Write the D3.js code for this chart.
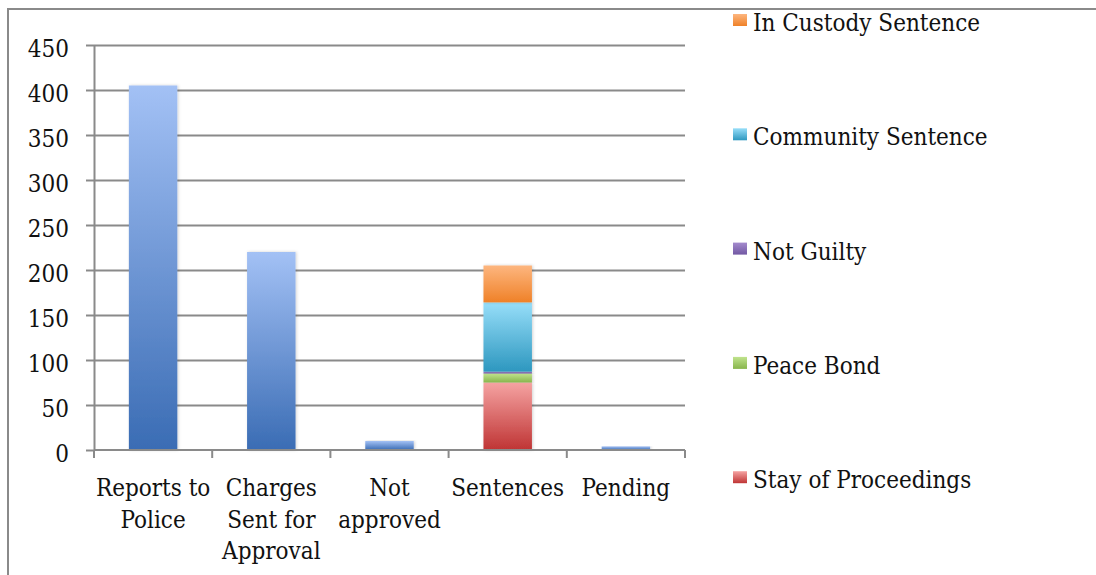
<!doctype html>
<html>
<head>
<style>
  body { margin: 0; background: #fff; }
  svg { display: block; }
  text { fill: #111; }
  .grid line { stroke: #8a8a8a; stroke-width: 2; }
  .grid path { stroke: none; }
  .axis path, .axis line { stroke: #8a8a8a; stroke-width: 2; }
</style>
<script src="https://d3js.org/d3.v7.min.js"></script>
</head>
<body>
<svg width="1096" height="575"></svg>
<script>
const categories = ['Reports to Police', 'Charges Sent for Approval', 'Not approved', 'Sentences', 'Pending'];
const catLines = [['Reports to', 'Police'], ['Charges', 'Sent for', 'Approval'], ['Not', 'approved'], ['Sentences'], ['Pending']];
const totals = [405, 220, 10, null, 4];
// stacked segments of the "Sentences" bar, bottom to top
const sentenceSeries = ['Stay of Proceedings', 'Peace Bond', 'Not Guilty', 'Community Sentence', 'In Custody Sentence'];
const sentenceValues = [75, 10, 2, 77, 41];
const yTicks = [0, 50, 100, 150, 200, 250, 300, 350, 400, 450];

const colors = {
  'total': ['#a3c1f5', '#3a6cb4'],
  'Stay of Proceedings': ['#f5a3a2', '#bf3434'],
  'Peace Bond': ['#c0e38d', '#88b54c'],
  'Not Guilty': ['#a48bcd', '#7258a3'],
  'Community Sentence': ['#97def9', '#2d97bf'],
  'In Custody Sentence': ['#fdb67f', '#ef8128']
};
const FONT = "'DejaVu Serif Condensed', 'DejaVu Serif', serif";

const svg = d3.select('svg');
const plotL = 94, plotR = 685, plotT = 45, plotB = 450;

const defs = svg.append('defs');
Object.entries(colors).forEach(([k, c], i) => {
  const g = defs.append('linearGradient').attr('id', 'grad' + i)
    .attr('x1', 0).attr('y1', 0).attr('x2', 0).attr('y2', 1);
  g.append('stop').attr('offset', '0%').attr('stop-color', c[0]);
  g.append('stop').attr('offset', '100%').attr('stop-color', c[1]);
  colors[k].id = 'grad' + i;
});
const shadow = defs.append('filter').attr('id', 'shadow').attr('x', '-20%').attr('y', '-5%').attr('width', '140%').attr('height', '110%');
shadow.append('feDropShadow').attr('dx', 1).attr('dy', 0).attr('stdDeviation', 1.5).attr('flood-color', '#000').attr('flood-opacity', 0.18);

// outer frame (cropped on right and bottom)
svg.append('path').attr('d', 'M8,575 V9 H1096').attr('fill', 'none').attr('stroke', '#8a8a8a').attr('stroke-width', 2);

const band = d3.scaleBand().domain(categories).range([plotL, plotR]).padding(0);
const xBar = d3.scaleBand().domain(categories).range([plotL, plotR]).paddingInner(0.59).paddingOuter(0.295);
const y = d3.scaleLinear().domain([0, 450]).range([plotB, plotT]);

svg.append('g').attr('class', 'grid')
  .attr('transform', `translate(${plotL},0)`)
  .call(d3.axisLeft(y).tickValues(yTicks.slice(1)).tickSize(-(plotR - plotL)).tickFormat(''));

const yAxis = svg.append('g').attr('class', 'axis')
  .attr('transform', `translate(${plotL},0)`)
  .call(d3.axisLeft(y).tickValues(yTicks).tickSize(8).tickPadding(17).tickSizeOuter(0));
yAxis.selectAll('.tick text')
  .style('font-family', FONT).style('font-size', '24px').style('fill', '#111')
  .attr('dy', '0.36em').attr('y', 3);

// bars
const simple = categories.map((c, i) => ({ c, v: totals[i] })).filter(d => d.v !== null);
svg.append('g').selectAll('rect').data(simple).join('rect')
  .attr('x', d => xBar(d.c))
  .attr('width', xBar.bandwidth())
  .attr('y', d => y(d.v))
  .attr('height', d => y(0) - y(d.v))
  .attr('fill', `url(#${colors.total.id})`)
  .attr('filter', 'url(#shadow)');

const stack = d3.stack().keys(sentenceSeries)([Object.fromEntries(sentenceSeries.map((s, i) => [s, sentenceValues[i]]))]);
svg.append('g').selectAll('rect').data(stack).join('rect')
  .attr('x', xBar('Sentences'))
  .attr('width', xBar.bandwidth())
  .attr('y', d => y(d[0][1]))
  .attr('height', d => y(d[0][0]) - y(d[0][1]))
  .attr('fill', d => `url(#${colors[d.key].id})`)
  .attr('filter', 'url(#shadow)');

// x axis
const xAxis = svg.append('g').attr('class', 'axis');
xAxis.append('line').attr('x1', plotL).attr('x2', plotR).attr('y1', plotB).attr('y2', plotB);
xAxis.selectAll('.xt').data(categories.map(c => band(c)).concat([plotR])).join('line')
  .attr('x1', d => d).attr('x2', d => d).attr('y1', plotB).attr('y2', plotB + 8);

const labels = svg.append('g').selectAll('text').data(categories).join('text')
  .style('font-family', FONT).style('font-size', '24px')
  .attr('text-anchor', 'middle')
  .attr('x', d => band(d) + band.bandwidth() / 2)
  .attr('y', 496);
labels.selectAll('tspan').data((d, i) => catLines[i]).join('tspan')
  .attr('x', function () { return d3.select(this.parentNode).attr('x'); })
  .attr('dy', (d, i) => i === 0 ? 0 : 31.5)
  .text(d => d);

// legend, top to bottom
const legendItems = sentenceSeries.slice().reverse();
const lg = svg.append('g').selectAll('g').data(legendItems).join('g')
  .attr('transform', (d, i) => `translate(733, ${14 + i * 114.3})`);
lg.append('rect').attr('width', 14).attr('height', 12).attr('fill', d => `url(#${colors[d].id})`);
lg.append('text').attr('x', 20).attr('y', 17)
  .style('font-family', FONT).style('font-size', '24px')
  .text(d => d);
</script>
</body>
</html>
